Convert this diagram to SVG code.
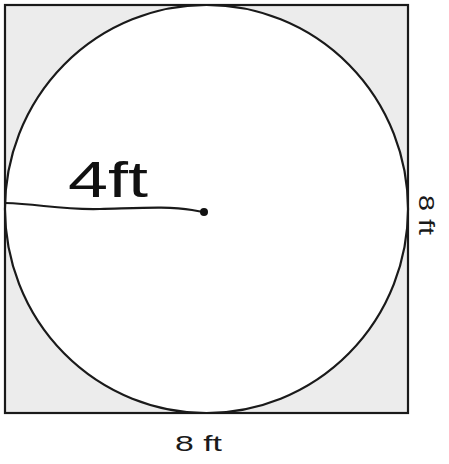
<svg xmlns="http://www.w3.org/2000/svg" width="449" height="464" viewBox="0 0 449 464">
<style>
.edge{fill:none;stroke:#1a1a1a;stroke-width:2.2}
.lbl{font-family:"Liberation Sans","DejaVu Sans",sans-serif;font-size:22px;fill:#1a1a1a}
.hand{font-family:"Liberation Sans","DejaVu Sans",sans-serif;font-size:50px;fill:#111}
</style>
<rect width="449" height="464" fill="#ffffff"/>
<g id="square">
<rect x="5" y="5" width="403" height="408" class="edge" style="fill:#ececec"/>
</g>
<g id="circle">
<ellipse cx="206.5" cy="209" rx="201.5" ry="204" fill="#ffffff" stroke="#1a1a1a" stroke-width="2.2"/>
</g>
<g id="connectors">
<path class="edge" d="M5,203 C40,204 60,210 100,209 C140,208 170,206 192,210 L203,212" stroke-width="2.5"/>
<circle cx="204" cy="212" r="4" fill="#111"/>
</g>
<g id="radius-label">
<text class="hand" x="68" y="197" textLength="80" lengthAdjust="spacingAndGlyphs">4ft</text>
</g>
<g id="side-label">
<text class="lbl" transform="translate(419,215) rotate(90)" text-anchor="middle" textLength="40" lengthAdjust="spacingAndGlyphs">8 ft</text>
</g>
<g id="bottom-label">
<text class="lbl" x="175" y="451" textLength="47" lengthAdjust="spacingAndGlyphs">8 ft</text>
</g>
</svg>
